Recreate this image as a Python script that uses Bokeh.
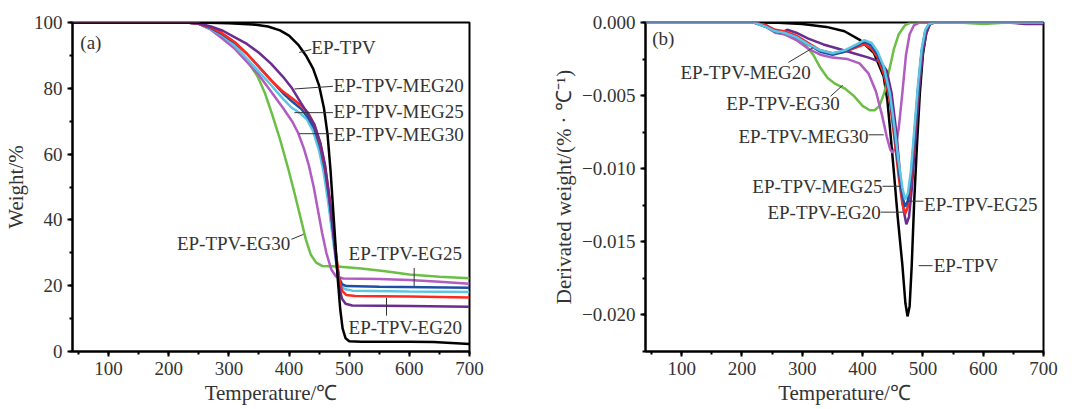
from bokeh.plotting import figure
from bokeh.layouts import row
from bokeh.models import SingleIntervalTicker, Label, Range1d, CustomJSTickFormatter
from bokeh.embed import file_html
from bokeh.resources import INLINE

# ---------------- TGA data (panel a) ----------------
tga_tpv_x = [40, 250, 300, 340, 365, 385, 400, 415, 428, 440, 450, 458, 464, 469, 473, 477, 481, 485, 489, 494, 500, 520, 600, 640, 670, 700]
tga_tpv_y = [100, 100, 99.8, 99.4, 98.8, 97.6, 96, 93.3, 90, 86, 80.8, 74, 66, 55, 44, 33, 22, 13, 7, 4, 3.1, 3, 3, 2.9, 2.6, 2.3]

tga_eg30_x = [40, 230, 250, 270, 290, 310, 330, 348, 360, 372, 385, 398, 410, 420, 428, 436, 445, 455, 480, 520, 560, 600, 650, 700]
tga_eg30_y = [100, 100, 99.6, 98, 95.5, 92.5, 88.5, 83.5, 78.5, 72, 64.5, 56, 47.5, 40, 34, 29.5, 27, 26, 25.8, 25.2, 24.4, 23.4, 22.7, 22.3]

tga_meg30_x = [40, 230, 250, 270, 290, 310, 330, 350, 370, 390, 405, 415, 425, 433, 441, 448, 455, 462, 470, 478, 490, 550, 600, 650, 700]
tga_meg30_y = [100, 100, 99.6, 97.8, 95, 92, 88, 84, 79, 74, 70, 66.5, 61.5, 56.5, 50, 43, 36, 30, 25, 22.8, 22.2, 22, 21.7, 21.2, 20.6]

tga_meg25_x = [40, 230, 250, 270, 290, 310, 330, 350, 370, 390, 405, 418, 430, 440, 450, 458, 465, 471, 476, 481, 486, 492, 505, 600, 700]
tga_meg25_y = [100, 100, 99.6, 98, 96, 92.8, 89, 85, 81, 76.8, 74, 72.5, 70.5, 67, 61, 54, 45.5, 37, 30, 23.5, 20.3, 19, 18.5, 18.2, 18.1]

tga_eg25_x = [40, 230, 250, 270, 290, 310, 330, 350, 370, 390, 405, 420, 432, 442, 452, 460, 467, 473, 478, 483, 488, 495, 550, 700]
tga_eg25_y = [100, 100, 99.6, 98.3, 96.3, 93.8, 90.5, 86.5, 82.5, 78.5, 76, 73.8, 71, 67.8, 62, 55, 46, 37, 29, 22.5, 20.5, 19.9, 19.7, 19.4]

tga_eg20_x = [40, 230, 250, 270, 290, 310, 330, 350, 370, 390, 405, 420, 432, 442, 452, 460, 467, 473, 478, 483, 488, 495, 510, 600, 700]
tga_eg20_y = [100, 100, 99.6, 98.5, 96.6, 94, 90.5, 86.5, 82.5, 79, 77, 74.8, 72.5, 69, 63, 56, 47, 38, 30, 22.5, 18.5, 17.2, 16.9, 16.7, 16.4]

tga_meg20_x = [40, 230, 250, 270, 290, 310, 330, 350, 370, 390, 405, 420, 432, 442, 452, 460, 467, 473, 478, 483, 488, 494, 505, 600, 700]
tga_meg20_y = [100, 100, 99.7, 98.8, 97.5, 95.5, 93.5, 90.8, 87.5, 83.5, 80, 75.5, 72, 69, 63.5, 56.5, 47, 37, 28, 20, 16, 14.5, 14, 13.8, 13.6]

# ---------------- DTG data (panel b) ----------------
dtg_tpv_x = [40, 220, 260, 300, 340, 370, 396, 419, 435, 441, 446, 451, 458, 466, 471, 474.5, 478, 481.5, 485.5, 490, 495, 500, 505, 510, 515, 700]
dtg_tpv_y = [0, 0, -0.00002, -0.0001, -0.0003, -0.0006, -0.0012, -0.0021, -0.0037, -0.0053, -0.0075, -0.0098, -0.0132, -0.0166, -0.0192, -0.0201, -0.0194, -0.0166, -0.0123, -0.0085, -0.0048, -0.0022, -0.0008, -0.0002, 0, 0]

dtg_eg30_x = [40, 220, 240, 255, 270, 290, 305, 318, 330, 342, 355, 370, 385, 400, 412, 420, 428, 436, 444, 452, 460, 470, 480, 560, 600, 640, 700]
dtg_eg30_y = [0, 0, -0.0002, -0.0006, -0.0008, -0.0011, -0.0015, -0.0022, -0.0031, -0.0038, -0.0042, -0.0045, -0.005, -0.0057, -0.006, -0.006, -0.0057, -0.0048, -0.0033, -0.0018, -0.0008, -0.0002, 0, 0, -0.0001, 0, 0]

dtg_meg30_x = [40, 220, 240, 255, 270, 290, 310, 330, 350, 375, 395, 410, 422, 432, 440, 446, 450, 455, 460, 466, 472, 478, 485, 495, 700]
dtg_meg30_y = [0, 0, -0.0003, -0.0007, -0.0008, -0.0012, -0.0018, -0.0022, -0.0024, -0.0025, -0.0028, -0.0035, -0.0047, -0.0063, -0.0078, -0.0087, -0.0089, -0.0085, -0.0072, -0.0048, -0.0022, -0.0008, -0.0002, 0, 0]

dtg_meg20_x = [40, 220, 240, 255, 265, 275, 290, 310, 335, 360, 385, 410, 430, 440, 448, 456, 463, 468, 472.5, 477, 482, 488, 494, 500, 506, 512, 520, 640, 670, 700]
dtg_meg20_y = [0, 0, -0.0002, -0.0006, -0.0007, -0.0005, -0.0007, -0.0011, -0.0015, -0.0018, -0.0021, -0.0024, -0.0027, -0.0033, -0.0048, -0.0075, -0.0108, -0.0128, -0.0138, -0.0133, -0.0112, -0.0078, -0.0045, -0.002, -0.0007, -0.0001, 0, 0, -0.0001, -0.0001]

dtg_eg20_x = [40, 220, 240, 255, 270, 290, 310, 330, 350, 370, 390, 403, 415, 425, 435, 445, 453, 460, 466, 470.5, 475, 480, 486, 492, 498, 504, 510, 518, 700]
dtg_eg20_y = [0, 0, -0.0002, -0.0005, -0.0006, -0.0009, -0.0014, -0.0019, -0.0021, -0.002, -0.0017, -0.0015, -0.0018, -0.0024, -0.0035, -0.0053, -0.008, -0.0106, -0.0124, -0.0131, -0.0126, -0.011, -0.0078, -0.0046, -0.002, -0.0006, -0.0001, 0, 0]

dtg_eg25_x = [40, 220, 240, 255, 270, 290, 310, 330, 350, 370, 390, 403, 415, 425, 435, 445, 453, 460, 466, 470.5, 475, 480, 486, 492, 498, 504, 510, 518, 700]
dtg_eg25_y = [0, 0, -0.0003, -0.0006, -0.0007, -0.001, -0.0015, -0.002, -0.0022, -0.002, -0.0016, -0.0013, -0.0016, -0.0022, -0.0032, -0.005, -0.0076, -0.0101, -0.0119, -0.0126, -0.0122, -0.0106, -0.0076, -0.0045, -0.002, -0.0006, -0.0001, 0, 0]

dtg_meg25_x = [40, 220, 240, 255, 270, 290, 310, 330, 350, 370, 390, 403, 415, 425, 435, 445, 453, 460, 466, 470.5, 475, 480, 486, 492, 498, 504, 510, 518, 700]
dtg_meg25_y = [0, 0, -0.0003, -0.0006, -0.0007, -0.001, -0.0015, -0.0019, -0.0021, -0.0019, -0.0015, -0.0012, -0.0014, -0.002, -0.003, -0.0048, -0.0072, -0.0096, -0.0113, -0.0121, -0.0117, -0.0102, -0.0072, -0.0042, -0.0018, -0.0005, -0.0001, 0, 0]

# ---------------- annotations ----------------
a_labels = ["EP-TPV", "EP-TPV-MEG20", "EP-TPV-MEG25", "EP-TPV-MEG30", "EP-TPV-EG30", "EP-TPV-EG25", "EP-TPV-EG20"]
a_lab_x = [437, 474, 474, 474, 402, 499, 499]
a_lab_y = [92.4, 81.0, 72.8, 65.9, 32.9, 29.9, 7.3]
a_lab_align = ["left", "left", "left", "left", "right", "left", "left"]
a_lead_x0 = [417, 409, 409, 417, 404, 608, 562]
a_lead_y0 = [90.9, 79.8, 72.6, 66.2, 34.1, 25.4, 16.3]
a_lead_x1 = [437, 473, 473, 473, 424, 608, 562]
a_lead_y1 = [91.8, 80.6, 72.6, 66.2, 35.6, 19.9, 10.9]

b_labels = ["EP-TPV-MEG20", "EP-TPV-EG30", "EP-TPV-MEG30", "EP-TPV-MEG25", "EP-TPV-EG20", "EP-TPV-EG25", "EP-TPV"]
b_lab_x = [206, 268, 410, 433, 430, 502, 518]
b_lab_y = [-0.00342, -0.00551, -0.00782, -0.0112, -0.01297, -0.01243, -0.01663]
b_lab_align = ["center", "center", "right", "right", "right", "left", "left"]
b_lead_x0 = [277, 347, 410, 433, 430, 476, 493]
b_lead_y0 = [-0.00273, -0.00504, -0.00768, -0.0112, -0.01297, -0.01222, -0.01663]
b_lead_x1 = [318, 367, 435, 463, 467, 501, 516]
b_lead_y1 = [-0.00172, -0.00429, -0.00768, -0.0112, -0.01297, -0.01222, -0.01663]

COL = {"tpv": "#000000", "eg20": "#ff2a1f", "eg25": "#1f4ea6", "eg30": "#6cbf45",
       "meg20": "#6a2d8f", "meg25": "#5cc6e2", "meg30": "#b05cc0"}
FONT = "Liberation Serif"
TXT = "#333333"


def style(p):
    p.toolbar_location = None
    p.grid.visible = False
    p.outline_line_color = "black"
    p.outline_line_width = 2
    p.outline_line_alpha = 1
    p.background_fill_color = "white"
    p.border_fill_color = "white"
    for ax in (p.xaxis[0], p.yaxis[0]):
        ax.axis_line_width = 2
        ax.axis_line_color = "black"
        ax.major_tick_line_width = 2
        ax.minor_tick_line_width = 2
        ax.major_tick_in = 0
        ax.major_tick_out = 5
        ax.minor_tick_in = 0
        ax.minor_tick_out = 3
        ax.major_label_text_font = FONT
        ax.major_label_text_font_size = "19px"
        ax.major_label_text_color = TXT
        ax.axis_label_text_font = FONT
        ax.axis_label_text_font_size = "21px"
        ax.axis_label_text_font_style = "normal"
        ax.axis_label_text_color = TXT
        ax.major_label_standoff = 5
        ax.axis_label_standoff = 3


# ---------------- panel (a) ----------------
p1 = figure(width=540, height=408, output_backend="svg", toolbar_location=None,
            x_range=Range1d(40, 700), y_range=Range1d(0, 100),
            min_border_left=70, min_border_right=71, min_border_top=20, min_border_bottom=57)
style(p1)
p1.xaxis.ticker = SingleIntervalTicker(interval=100, num_minor_ticks=2)
p1.yaxis.ticker = SingleIntervalTicker(interval=20, num_minor_ticks=2)
p1.xaxis.axis_label = "Temperature/℃"
p1.yaxis.axis_label = "Weight/%"

for xs, ys, c in [(tga_eg30_x, tga_eg30_y, "eg30"), (tga_meg30_x, tga_meg30_y, "meg30"),
                  (tga_meg25_x, tga_meg25_y, "meg25"), (tga_eg25_x, tga_eg25_y, "eg25"),
                  (tga_eg20_x, tga_eg20_y, "eg20"), (tga_meg20_x, tga_meg20_y, "meg20"),
                  (tga_tpv_x, tga_tpv_y, "tpv")]:
    p1.line(xs, ys, line_color=COL[c], line_width=2.5)

p1.segment(x0=a_lead_x0, y0=a_lead_y0, x1=a_lead_x1, y1=a_lead_y1, line_color="#333333", line_width=1)
for t, x, y, al in zip(a_labels, a_lab_x, a_lab_y, a_lab_align):
    p1.add_layout(Label(x=x, y=y, text=t, text_font=FONT, text_font_size="19px",
                        text_color=TXT, text_align=al, text_baseline="middle"))
p1.add_layout(Label(x=53, y=94, text="(a)", text_font=FONT, text_font_size="19px",
                    text_color=TXT, text_align="left", text_baseline="middle"))

# ---------------- panel (b) ----------------
p2 = figure(width=539, height=408, output_backend="svg", toolbar_location=None,
            x_range=Range1d(40, 700), y_range=Range1d(-0.0225, 0.0),
            min_border_left=105, min_border_right=36, min_border_top=22, min_border_bottom=56)
style(p2)
p2.xaxis.ticker = SingleIntervalTicker(interval=100, num_minor_ticks=2)
p2.yaxis.ticker = SingleIntervalTicker(interval=0.005, num_minor_ticks=2)
p2.yaxis.formatter = CustomJSTickFormatter(code="return tick.toFixed(3).replace('-', '\u2212');")
p2.xaxis.axis_label = "Temperature/℃"
p2.yaxis.axis_label = "Derivated weight/(% · ℃⁻¹)"

for xs, ys, c in [(dtg_tpv_x, dtg_tpv_y, "tpv"), (dtg_eg30_x, dtg_eg30_y, "eg30"),
                  (dtg_meg30_x, dtg_meg30_y, "meg30"), (dtg_meg20_x, dtg_meg20_y, "meg20"),
                  (dtg_eg20_x, dtg_eg20_y, "eg20"), (dtg_eg25_x, dtg_eg25_y, "eg25"),
                  (dtg_meg25_x, dtg_meg25_y, "meg25")]:
    p2.line(xs, ys, line_color=COL[c], line_width=2.5)

p2.segment(x0=b_lead_x0, y0=b_lead_y0, x1=b_lead_x1, y1=b_lead_y1, line_color="#333333", line_width=1)
for t, x, y, al in zip(b_labels, b_lab_x, b_lab_y, b_lab_align):
    p2.add_layout(Label(x=x, y=y, text=t, text_font=FONT, text_font_size="19px",
                        text_color=TXT, text_align=al, text_baseline="middle"))
p2.add_layout(Label(x=51, y=-0.0011, text="(b)", text_font=FONT, text_font_size="19px",
                    text_color=TXT, text_align="left", text_baseline="middle"))

layout = row(p1, p2)
open("out.html", "w").write(file_html(layout, INLINE))
